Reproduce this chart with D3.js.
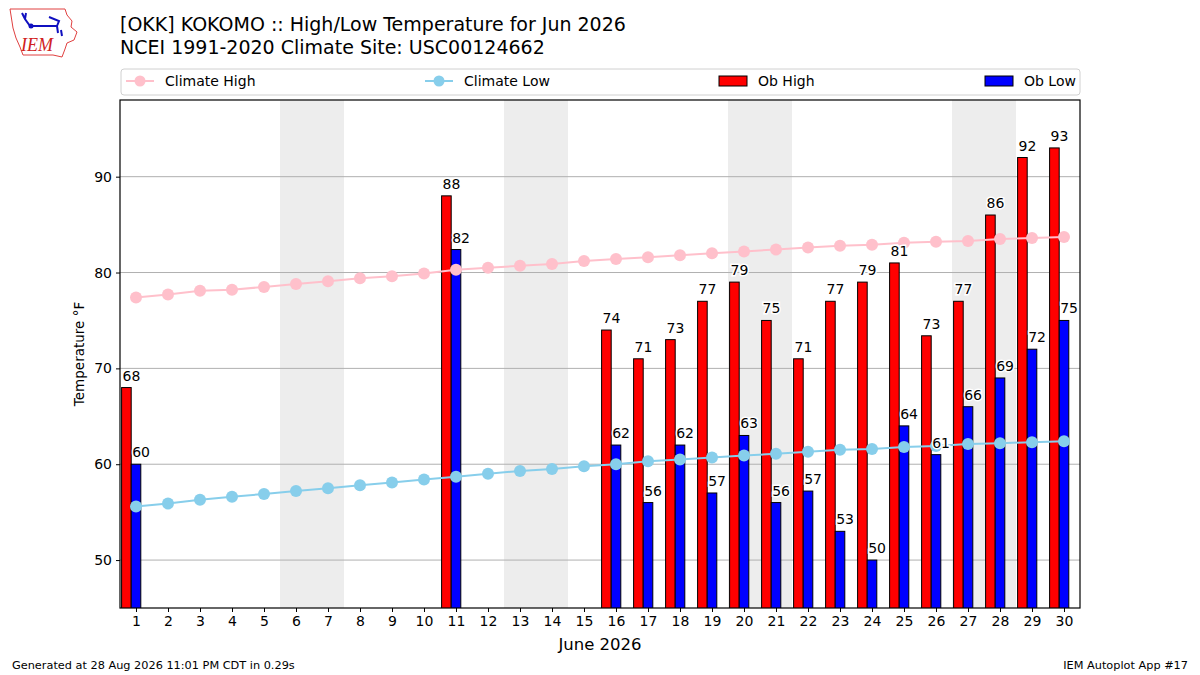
<!DOCTYPE html>
<html>
<head>
<meta charset="utf-8">
<script src="https://cdn.jsdelivr.net/npm/d3@7"></script>
<style>
  body { margin: 0; background: #fff; }
  svg { font-family: "DejaVu Sans", sans-serif; }
</style>
</head>
<body>
<svg id="chart" width="1200" height="675"></svg>
<script>
// June 2026 days
var days = d3.range(1, 31);
// NCEI 1991-2020 daily normals
var climHigh = [77.4, 77.7, 78.1, 78.2, 78.5, 78.8, 79.1, 79.4, 79.6, 79.9,
                80.3, 80.5, 80.7, 80.9, 81.2, 81.4, 81.6, 81.8, 82.0, 82.2,
                82.4, 82.6, 82.8, 82.9, 83.1, 83.2, 83.3, 83.5, 83.6, 83.7];
var climLow = [55.6, 55.9, 56.3, 56.6, 56.9, 57.2, 57.5, 57.8, 58.1, 58.4,
               58.7, 59.0, 59.3, 59.5, 59.8, 60.0, 60.3, 60.5, 60.7, 60.9,
               61.1, 61.3, 61.5, 61.6, 61.8, 61.9, 62.1, 62.2, 62.3, 62.4];
// observations (null = missing)
var obHigh = [68, null, null, null, null, null, null, null, null, null,
              88, null, null, null, null, 74, 71, 73, 77, 79,
              75, 71, 77, 79, 81, 73.4, 77, 86, 92, 93];
var obLow = [60, null, null, null, null, null, null, null, null, null,
             82.4, null, null, null, null, 62, 56, 62, 57, 63,
             56, 57.2, 53, 50, 64, 61, 66, 69, 72, 75];
var weekends = [6, 7, 13, 14, 20, 21, 27, 28];
var yTicks = [50, 60, 70, 80, 90];
var legendLabels = ["Climate High", "Climate Low", "Ob High", "Ob Low"];

var svg = d3.select("#chart");
var pLeft = 120, pRight = 1080, pTop = 100, pBottom = 608;

var x = d3.scaleLinear().domain([0.5, 30.5]).range([pLeft, pRight]);
var y = d3.scaleLinear().domain([45, 98]).range([pBottom, pTop]);
var bw = x(0.3) - x(0);

// clip
svg.append("clipPath").attr("id", "plotclip")
  .append("rect").attr("x", pLeft).attr("y", pTop)
  .attr("width", pRight - pLeft).attr("height", pBottom - pTop);

var plot = svg.append("g").attr("clip-path", "url(#plotclip)");

// weekend shading
plot.selectAll("rect.wk").data(weekends).enter().append("rect")
  .attr("class", "wk")
  .attr("x", function(d){ return x(d - 0.5); })
  .attr("y", pTop)
  .attr("width", x(1) - x(0))
  .attr("height", pBottom - pTop)
  .style("fill", "#ededed");

// grid
plot.selectAll("line.grid").data(yTicks).enter().append("line")
  .attr("x1", pLeft).attr("x2", pRight)
  .attr("y1", function(d){ return y(d); })
  .attr("y2", function(d){ return y(d); })
  .style("stroke", "#b0b0b0").style("stroke-width", 1);

var highs = days.map(function(d, i){ return {day: d, v: obHigh[i]}; })
  .filter(function(d){ return d.v !== null; });
var lows = days.map(function(d, i){ return {day: d, v: obLow[i]}; })
  .filter(function(d){ return d.v !== null; });

plot.selectAll("rect.hi").data(highs).enter().append("rect")
  .attr("x", function(d){ return x(d.day - 0.45); })
  .attr("y", function(d){ return y(d.v); })
  .attr("width", bw)
  .attr("height", function(d){ return pBottom - y(d.v) + 2; })
  .style("fill", "#ff0000").style("stroke", "#000").style("stroke-width", 1);

plot.selectAll("rect.lo").data(lows).enter().append("rect")
  .attr("x", function(d){ return x(d.day - 0.15); })
  .attr("y", function(d){ return y(d.v); })
  .attr("width", bw)
  .attr("height", function(d){ return pBottom - y(d.v) + 2; })
  .style("fill", "#0000ff").style("stroke", "#000").style("stroke-width", 1);

// climate lines
function climLine(vals, color){
  var pts = days.map(function(d, i){ return [d, vals[i]]; });
  plot.append("path")
    .datum(pts)
    .attr("d", d3.line().x(function(p){ return x(p[0]); }).y(function(p){ return y(p[1]); }))
    .style("fill", "none").style("stroke", color).style("stroke-width", 2);
  plot.selectAll(null).data(pts).enter().append("circle")
    .attr("cx", function(p){ return x(p[0]); })
    .attr("cy", function(p){ return y(p[1]); })
    .attr("r", 6)
    .style("fill", color);
}
climLine(climHigh, "#ffc0cb");
climLine(climLow, "#87ceeb");

// value labels
function labels(data, off){
  svg.selectAll(null).data(data).enter().append("text")
    .attr("x", function(d){ return x(d.day + off) + 1; })
    .attr("y", function(d){ return y(d.v) - 7; })
    .attr("font-size", "14px")
    .style("paint-order", "stroke")
    .style("stroke", "#fff").style("stroke-width", 3)
    .style("fill", "#000")
    .text(function(d){ return Math.round(d.v); });
}
labels(highs, -0.45);
labels(lows, -0.15);

// axes
var yAxis = d3.axisLeft(y).tickValues(yTicks).tickSize(4).tickPadding(4);
var xAxis = d3.axisBottom(x).tickValues(days).tickSize(4).tickPadding(4);
var gy = svg.append("g").attr("transform", "translate(" + pLeft + ",0)").call(yAxis);
var gx = svg.append("g").attr("transform", "translate(0," + pBottom + ")").call(xAxis);
[gx, gy].forEach(function(g){
  g.select(".domain").remove();
  g.selectAll("text").attr("font-size", "14px").attr("font-family", "DejaVu Sans").style("fill", "#000");
  g.selectAll("line").style("stroke", "#000");
});
svg.append("rect").attr("x", pLeft).attr("y", pTop)
  .attr("width", pRight - pLeft).attr("height", pBottom - pTop)
  .style("fill", "none").style("stroke", "#000").style("stroke-width", 1.2);

svg.append("text").attr("x", (pLeft + pRight) / 2).attr("y", 650)
  .attr("text-anchor", "middle").attr("font-size", "16.5px").text("June 2026");
svg.append("text").attr("transform", "translate(84," + ((pTop + pBottom) / 2) + ") rotate(-90)")
  .attr("text-anchor", "middle").attr("font-size", "13.5px").text("Temperature °F");

// titles
svg.append("text").attr("x", 120).attr("y", 31).attr("font-size", "19px")
  .text("[OKK] KOKOMO :: High/Low Temperature for Jun 2026");
svg.append("text").attr("x", 120).attr("y", 54).attr("font-size", "19px")
  .text("NCEI 1991-2020 Climate Site: USC00124662");

// legend
var lg = svg.append("g");
lg.append("rect").attr("x", 121).attr("y", 69).attr("width", 959).attr("height", 26)
  .attr("rx", 3).style("fill", "#fff").style("stroke", "#d0d0d0");
var legendX = [126, 425, 719, 985];
legendLabels.forEach(function(lab, i){
  var lx = legendX[i];
  if (i < 2) {
    var c = i === 0 ? "#ffc0cb" : "#87ceeb";
    lg.append("line").attr("x1", lx).attr("x2", lx + 28).attr("y1", 81).attr("y2", 81)
      .style("stroke", c).style("stroke-width", 2);
    lg.append("circle").attr("cx", lx + 14).attr("cy", 81).attr("r", 5.5).style("fill", c);
  } else {
    lg.append("rect").attr("x", lx).attr("y", 76).attr("width", 28).attr("height", 10)
      .style("fill", i === 2 ? "#ff0000" : "#0000ff").style("stroke", "#000");
  }
  lg.append("text").attr("x", lx + 39).attr("y", 86).attr("font-size", "14px").text(lab);
});

// footer
svg.append("text").attr("x", 12).attr("y", 669).attr("font-size", "11.3px")
  .text("Generated at 28 Aug 2026 11:01 PM CDT in 0.29s");
svg.append("text").attr("x", 1188).attr("y", 669).attr("font-size", "11.3px")
  .attr("text-anchor", "end").text("IEM Autoplot App #17");

// logo
var logo = svg.append("g");
logo.append("path")
  .attr("d", "M10,9 L65,9 L67,15 L72,21 L71,27 L77,32 L74,40 L67,43 L65,49 L62,57 L53,55 L23,55 L20,47 L16,38 L13,28 Z")
  .style("fill", "#fff").style("stroke", "#e04040").style("stroke-width", 1);
logo.append("path")
  .attr("d", "M22,13 L25,19 M26,13 L25,19 L30,26 L57,26 M49,17 L59,21 L57,26 L58,33 M61,30 L62,36")
  .style("fill", "none").style("stroke", "#1010c0").style("stroke-width", 2);
logo.append("circle").attr("cx", 31).attr("cy", 26).attr("r", 2.5).style("fill", "#1010c0");
logo.append("text").attr("x", 21).attr("y", 51).attr("font-size", "18px")
  .attr("font-family", "Liberation Serif").attr("font-style", "italic")
  .style("fill", "#d02020").text("IEM");
</script>
</body>
</html>
